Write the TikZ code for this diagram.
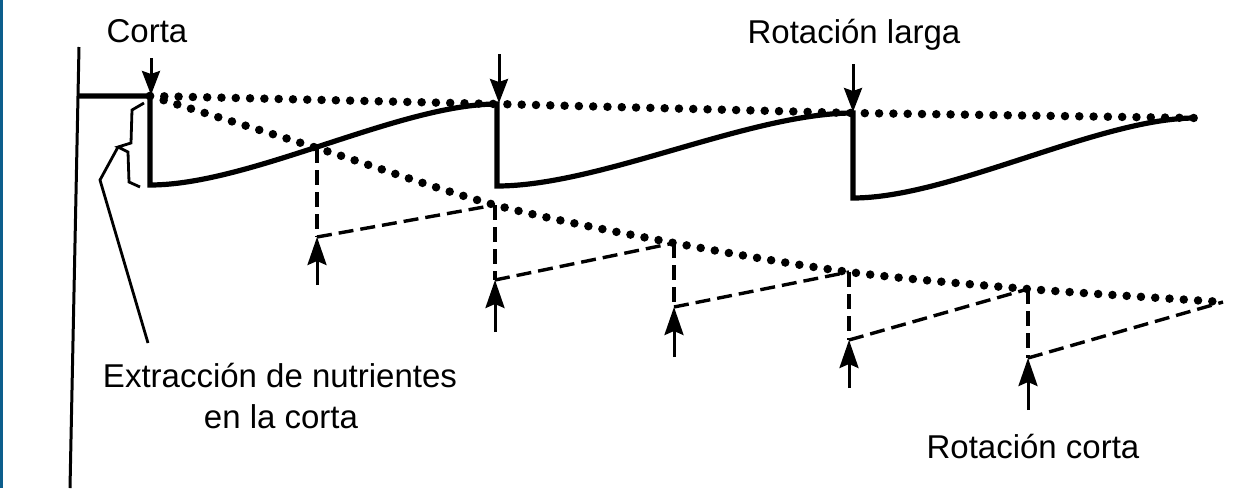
\documentclass[tikz,border=0pt]{standalone}
\usepackage{fontspec}
\setmainfont{Liberation Sans}
\usetikzlibrary{arrows.meta}
\definecolor{stripe}{RGB}{12,94,140}
\begin{document}
\begin{tikzpicture}[x=1pt,y=-1pt,
  dots/.style={line width=8.5pt, line cap=round, dash pattern=on 0pt off 14.3pt},
  solidcurve/.style={line width=5.2pt, line join=miter},
  dashedline/.style={line width=3.4pt, dash pattern=on 15pt off 7pt},
  downarrow/.style={line width=3pt, -{Stealth[length=24pt,width=18pt,inset=3pt]}},
  uparrow/.style={line width=3pt, -{Stealth[length=28pt,width=19pt,inset=4pt]}},
  thinline/.style={line width=2.8pt, line join=miter},
  lbl/.style={font=\fontsize{33}{38}\selectfont, anchor=base, inner sep=0pt}]
\useasboundingbox (0,0) rectangle (1257,488);
\fill[stripe] (0,0) rectangle (2.5,488);

% coordinates
\coordinate (a0) at (79,47);
\coordinate (a1) at (70,488);
\coordinate (s0) at (79,96);
\coordinate (c1) at (150,96);
\coordinate (b1) at (150,185);
\coordinate (p1) at (497,104);
\coordinate (b2) at (497,186);
\coordinate (p2) at (853,113);
\coordinate (b3) at (853,198);
\coordinate (p3) at (1195,118);

\coordinate (q1) at (317,148);
\coordinate (q2) at (495,205);
\coordinate (q3) at (674,243);
\coordinate (q4) at (849,272);
\coordinate (q5) at (1028,289);
\coordinate (q6) at (1223,302);

\coordinate (r1) at (317,237);
\coordinate (r2) at (495,280);
\coordinate (r3) at (674,307);
\coordinate (r4) at (849,340);
\coordinate (r5) at (1028,358);

\coordinate (t1) at (317,285);
\coordinate (t2) at (495,332);
\coordinate (t3) at (674,357);
\coordinate (t4) at (849,388);
\coordinate (t5) at (1028,410);

% axis
\draw[line width=3pt] (a0) -- (a1);

% dotted lines
\draw[dots] (c1) -- (p1) -- (p2) -- (p3);
\draw[dots] plot[smooth, tension=0.5] coordinates {(150,96) (317,148) (495,205) (674,243) (849,272) (1028,289) (1223,302)};

% long rotation solid curve
\draw[solidcurve] (s0) -- (c1) -- (b1)
  .. controls (250,185) and (400,104) .. (p1) -- (b2)
  .. controls (600,186) and (750,113) .. (p2) -- (b3)
  .. controls (950,198) and (1100,118) .. (p3);

% short rotation dashed
\foreach \i/\j in {1/2,2/3,3/4,4/5,5/6}{
  \draw[dashedline] (q\i) -- (r\i);
  \draw[dashedline] (r\i) -- (q\j);
}

% harvest arrows (down)
\draw[downarrow] (151,58) -- (151,95);
\draw[downarrow] (499,54) -- (499,103);
\draw[downarrow] (853,64) -- (853,112);

% short rotation arrows (up)
\foreach \i in {1,...,5}{
  \draw[uparrow] (t\i) -- (r\i);
}

% brace and leader
\draw[thinline] (144,103) -- (132,110) -- (131,143) -- (118,147) -- (128,152) -- (129,182) -- (140,187);
\draw[thinline] (118,147) -- (100,180) -- (148,343);

% labels
\node[lbl] (corta) at (147,42) {Corta};
\node[lbl] (larga) at (854,43) {Rotación larga};
\node[lbl] (ext1) at (280,387) {Extracción de nutrientes};
\node[lbl] (ext2) at (281,428) {en la corta};
\node[lbl] (rcorta) at (1033,458) {Rotación corta};
\end{tikzpicture}
\end{document}
